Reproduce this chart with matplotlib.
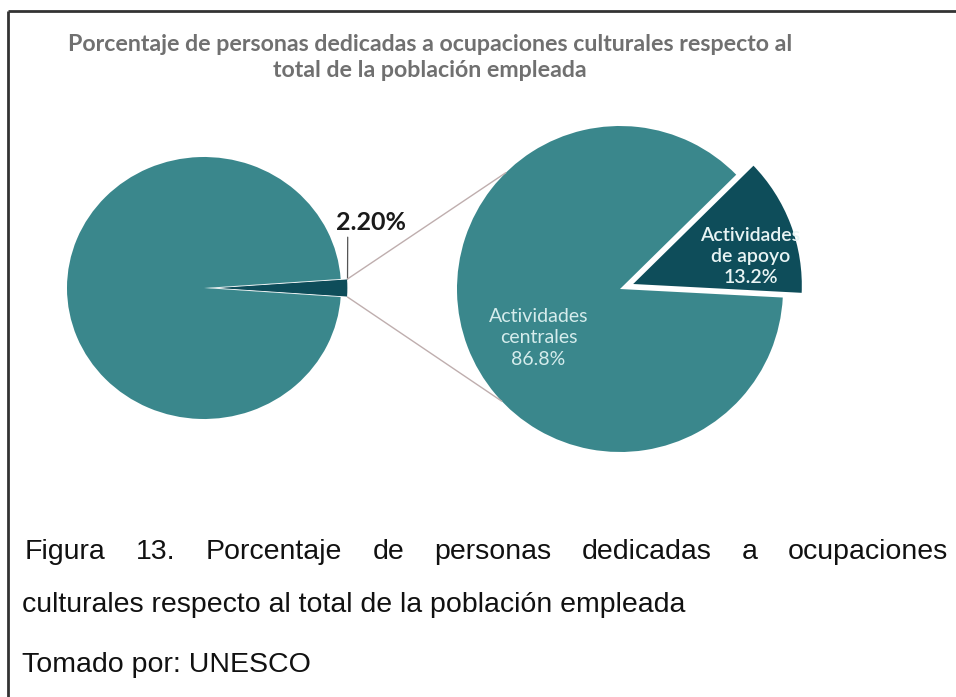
import numpy as np
import matplotlib
matplotlib.use("Agg")
import matplotlib.pyplot as plt
from matplotlib.patches import ConnectionPatch

# share of cultural occupations in total employment
total_labels = ["Ocupaciones culturales", "Resto"]
total_values = [2.2, 97.8]

# breakdown of the cultural share
sub_labels = ["Actividades\nde apoyo", "Actividades\ncentrales"]
sub_values = [13.2, 86.8]

title = ("Porcentaje de personas dedicadas a ocupaciones culturales respecto al\n"
         "total de la población empleada")
caption_1 = "Figura 13. Porcentaje de personas dedicadas a ocupaciones"
caption_2 = "culturales respecto al total de la población empleada"
source = "Tomado por: UNESCO"

teal = "#3a878c"
dark = "#0e4d5a"
W, H = 956, 697

fig = plt.figure(figsize=(W / 100, H / 100), dpi=100)

# background axes in pixel units for frame and text
bg = fig.add_axes([0, 0, 1, 1])
bg.set_xlim(0, W)
bg.set_ylim(H, 0)
bg.axis("off")
bg.plot([8, W], [11, 11], color="#333333", lw=2, solid_capstyle="butt")
bg.plot([8, 8], [11, H], color="#333333", lw=2, solid_capstyle="butt")

bg.text(430, 51, title.split("\n")[0], ha="center", va="baseline",
        fontsize=16.7, fontweight="bold", color="#707070", family="Lato")
bg.text(430, 77, title.split("\n")[1], ha="center", va="baseline",
        fontsize=16.7, fontweight="bold", color="#707070", family="Lato")


def pie_axes(cx, cy, rx, ry, lim=1.3):
    w, h = 2 * lim * rx, 2 * lim * ry
    ax = fig.add_axes([(cx - w / 2) / W, (H - cy - h / 2) / H, w / W, h / H])
    return ax


# left pie: total employment
ax1 = pie_axes(204, 288, 137, 131)
half = total_values[0] * 3.6 / 2
w1, _ = ax1.pie(total_values, colors=[dark, teal], startangle=-half,
                explode=[0.05, 0], wedgeprops=dict(edgecolor="white", linewidth=0.6))
w1[1].set_linewidth(0)
ax1.set_aspect("auto")
ax1.set_xlim(-1.3, 1.3)
ax1.set_ylim(-1.3, 1.3)

sw = w1[0]
cx0, cy0 = sw.center
top = (cx0 + sw.r * np.cos(np.radians(sw.theta2)), cy0 + sw.r * np.sin(np.radians(sw.theta2)))
bot = (cx0 + sw.r * np.cos(np.radians(sw.theta1)), cy0 + sw.r * np.sin(np.radians(sw.theta1)))

ax1.annotate(f"{total_values[0]:.2f}%", xy=top, xytext=(top[0] + 0.17, top[1] + 0.34),
             ha="center", va="bottom", fontsize=18, fontweight="bold",
             color="#1a1a1a", family="Lato",
             arrowprops=dict(arrowstyle="-", color="#555555", lw=0.9,
                             relpos=(0.17, 0.0), shrinkA=0, shrinkB=0))

# right pie: breakdown of cultural occupations
ax2 = pie_axes(620, 289, 163, 163)
w2, _ = ax2.pie(sub_values, colors=[dark, teal], startangle=-3,
                explode=[0.06, 0], wedgeprops=dict(edgecolor="white", linewidth=2.5))
w2[0].set_radius(1.07)
w2[1].set_linewidth(0)
ax2.set_aspect("auto")
ax2.set_xlim(-1.3, 1.3)
ax2.set_ylim(-1.3, 1.3)

ax2.text(0.80, 0.20, f"{sub_labels[0]}\n{sub_values[0]:.1f}%", ha="center", va="center",
         fontsize=14, fontweight="semibold", color="#e8f4f4", family="Lato", linespacing=1.3)
ax2.text(-0.50, -0.30, f"{sub_labels[1]}\n{sub_values[1]:.1f}%", ha="center", va="center",
         fontsize=14, color="#d5ecec", family="Lato", linespacing=1.3)

# connector lines between the slice and the breakdown pie
for pt, ang in [(top, 134.5), (bot, 223.5)]:
    end = (np.cos(np.radians(ang)), np.sin(np.radians(ang)))
    con = ConnectionPatch(xyA=pt, coordsA=ax1.transData, xyB=end, coordsB=ax2.transData,
                          color="#bfaeae", lw=1.0)
    fig.add_artist(con)

# caption, first line justified across the width
cap_kw = dict(fontsize=20.5, color="#111111", family="Liberation Sans", va="baseline")
renderer = fig.canvas.get_renderer()
words = caption_1.split(" ")
items = [bg.text(0, 559, wd, ha="left", **cap_kw) for wd in words]
widths = []
for t in items:
    bb = t.get_window_extent(renderer)
    widths.append(bb.width)
x0, x1 = 25, 948
gap = (x1 - x0 - sum(widths)) / (len(words) - 1)
x = x0
for t, wd in zip(items, widths):
    t.set_x(x)
    x += wd + gap

bg.text(22, 612, caption_2, ha="left", **cap_kw)
bg.text(22, 672, source, ha="left", **cap_kw)

fig.savefig("out.png", dpi=100)
